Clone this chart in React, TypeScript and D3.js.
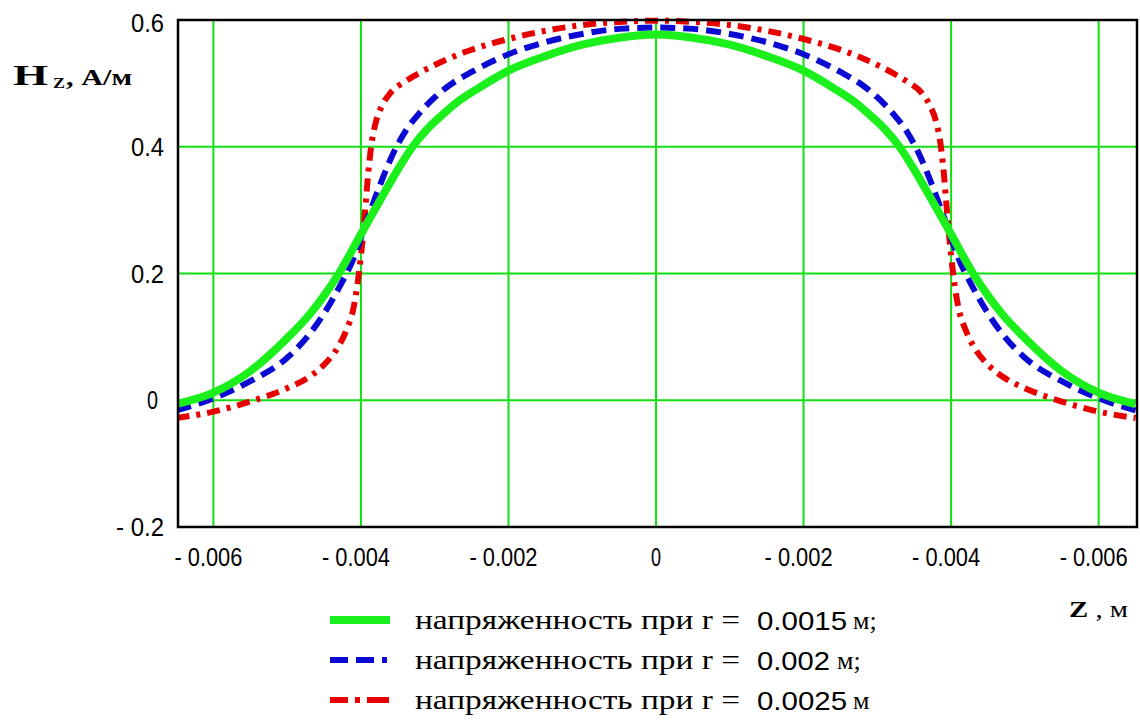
import React from "react";
import * as d3 from "d3";

// r = 0.0015 m : z (m) and Hz (A/m)
const Z15 = [
  -0.0065, -0.006, -0.0055, -0.005, -0.0047, -0.0045, -0.0043, -0.004, -0.0037, -0.0035,
  -0.0033, -0.0031, -0.0029, -0.0027, -0.0024, -0.002, -0.0015, -0.001, -0.0005, 0,
  0.0005, 0.001, 0.0015, 0.002, 0.0024, 0.0027, 0.0029, 0.0031, 0.0033, 0.0035,
  0.0037, 0.004, 0.0043, 0.0045, 0.0047, 0.005, 0.0055, 0.006, 0.0065,
];
const H15 = [
  -0.006, 0.012, 0.046, 0.098, 0.135, 0.165, 0.2, 0.262, 0.324, 0.364,
  0.4, 0.428, 0.45, 0.47, 0.493, 0.52, 0.543, 0.561, 0.572, 0.577,
  0.572, 0.561, 0.543, 0.52, 0.493, 0.47, 0.45, 0.428, 0.4, 0.364,
  0.324, 0.262, 0.2, 0.165, 0.135, 0.098, 0.046, 0.012, -0.006,
];

// r = 0.002 m
const Z20 = [
  -0.0065, -0.006, -0.0055, -0.005, -0.0047, -0.0045, -0.0043, -0.0041, -0.0039, -0.0037,
  -0.0036, -0.0034, -0.0032, -0.003, -0.0028, -0.0025, -0.002, -0.0015, -0.001, -0.0005, 0,
  0.0005, 0.001, 0.0015, 0.002, 0.0025, 0.0028, 0.003, 0.0032, 0.0034, 0.0036,
  0.0037, 0.0039, 0.0041, 0.0043, 0.0045, 0.0047, 0.005, 0.0055, 0.006, 0.0065,
];
const H20 = [
  -0.016, 0.003, 0.03, 0.067, 0.104, 0.137, 0.177, 0.224, 0.29, 0.352,
  0.38, 0.424, 0.454, 0.478, 0.497, 0.518, 0.546, 0.565, 0.578, 0.586, 0.588,
  0.586, 0.578, 0.565, 0.546, 0.518, 0.497, 0.478, 0.454, 0.424, 0.38,
  0.352, 0.29, 0.224, 0.177, 0.137, 0.104, 0.067, 0.03, 0.003, -0.016,
];

// r = 0.0025 m
const Z25 = [
  -0.0065, -0.006, -0.0055, -0.005, -0.0047, -0.0045, -0.0044, -0.0043, -0.0042, -0.0041,
  -0.00405, -0.004, -0.00395, -0.0039, -0.00385, -0.0038, -0.0037, -0.0036, -0.0034, -0.0032,
  -0.003, -0.0026, -0.002, -0.0015, -0.001, -0.0005, 0,
  0.0005, 0.001, 0.0015, 0.002, 0.0026, 0.003, 0.0032, 0.0034, 0.0036, 0.0037,
  0.0038, 0.00385, 0.0039, 0.00395, 0.004, 0.00405, 0.0041, 0.0042, 0.0043, 0.0044,
  0.0045, 0.0047, 0.005, 0.0055, 0.006, 0.0065,
];
const H25 = [
  -0.028, -0.018, -0.002, 0.019, 0.037, 0.056, 0.069, 0.086, 0.11, 0.146,
  0.18, 0.228, 0.29, 0.36, 0.41, 0.438, 0.468, 0.485, 0.503, 0.517,
  0.529, 0.549, 0.57, 0.583, 0.592, 0.597, 0.599,
  0.597, 0.592, 0.583, 0.57, 0.549, 0.529, 0.517, 0.503, 0.485, 0.468,
  0.438, 0.41, 0.36, 0.29, 0.228, 0.18, 0.146, 0.11, 0.086, 0.069,
  0.056, 0.037, 0.019, -0.002, -0.018, -0.028,
];

const X_TICKS = [-0.006, -0.004, -0.002, 0, 0.002, 0.004, 0.006];
const X_TICK_LABELS = ["- 0.006", "- 0.004", "- 0.002", "0", "- 0.002", "- 0.004", "- 0.006"];
const Y_TICKS = [-0.2, 0, 0.2, 0.4, 0.6];
const Y_TICK_LABELS = ["- 0.2", "0", "0.2", "0.4", "0.6"];

const LEGEND_PREFIX = "напряженность при r =";
const LEGEND_VALUES = ["0.0015", "0.002", "0.0025"];
const LEGEND_UNITS = ["м;", "м;", "м"];

const W = 1140;
const H = 726;
const L = 178, R = 1137, T = 20, B = 527;

const NUM_FONT = "'Liberation Sans', Arial, sans-serif";
const SERIF = "'Liberation Serif', 'Times New Roman', serif";

export default function App() {
  const x = d3.scaleLinear().domain([-0.00648, 0.00652]).range([L, R]);
  const y = d3.scaleLinear().domain([-0.2, 0.6]).range([B, T]);
  const mk = (zs: number[], vals: number[]) =>
    d3
      .line<number>()
      .x((_, i) => x(zs[i]))
      .y((d) => y(d))
      .curve(d3.curveMonotoneX)(vals) || "";

  const series = [
    { zs: Z25, vals: H25, color: "#e60000", width: 6, dash: "13,7,4,7" },
    { zs: Z20, vals: H20, color: "#0a0ad2", width: 6, dash: "15,8" },
    { zs: Z15, vals: H15, color: "#1cf01c", width: 8, dash: "" },
  ];
  const legendStyles = [series[2], series[1], series[0]];
  const legendY = [620, 660, 700];
  const legendValueLen = [90, 73, 90];
  const legendUnitX = [853, 837, 853];

  const xLabelLen = (s: string) => (s === "0" ? 10 : 68);
  const yLabelLen = (s: string) => (s === "0" ? 11 : s.length > 3 ? 48 : 33);

  return (
    <svg
      width={W}
      height={H}
      style={{ position: "absolute", left: 0, top: 0, background: "#fff" }}
    >
      <defs>
        <clipPath id="plotclip">
          <rect x={L} y={T - 4} width={R - L} height={B - T + 4} />
        </clipPath>
      </defs>
      {/* grid */}
      {X_TICKS.map((t) => (
        <line key={"gx" + t} x1={x(t)} x2={x(t)} y1={T} y2={B} stroke="#10e010" strokeWidth={2} />
      ))}
      {Y_TICKS.filter((t) => t > -0.2 && t < 0.6).map((t) => (
        <line key={"gy" + t} x1={L} x2={R} y1={y(t)} y2={y(t)} stroke="#10e010" strokeWidth={2} />
      ))}
      {/* curves */}
      <g clipPath="url(#plotclip)">
        {series.map((s, i) => (
          <path
            key={i}
            d={mk(s.zs, s.vals)}
            fill="none"
            stroke={s.color}
            strokeWidth={s.width}
            strokeDasharray={s.dash || undefined}
            strokeLinejoin="round"
          />
        ))}
      </g>
      {/* frame */}
      <rect x={L} y={T} width={R - L} height={B - T} fill="none" stroke="#000" strokeWidth={2.5} />
      {/* x tick labels */}
      {X_TICKS.map((t, i) => (
        <text
          key={"xl" + i}
          x={x(t) + (t === 0 ? 0 : -5)}
          y={566}
          textAnchor="middle"
          fontFamily={NUM_FONT}
          fontSize={25}
          textLength={xLabelLen(X_TICK_LABELS[i])}
          lengthAdjust="spacingAndGlyphs"
          fill="#000"
        >
          {X_TICK_LABELS[i]}
        </text>
      ))}
      {/* y tick labels */}
      {Y_TICKS.map((t, i) => (
        <text
          key={"yl" + i}
          x={164 - (t === 0 ? 6 : 0)}
          y={y(t) + (t === 0.6 ? 12 : 9)}
          textAnchor="end"
          fontFamily={NUM_FONT}
          fontSize={25}
          textLength={yLabelLen(Y_TICK_LABELS[i])}
          lengthAdjust="spacingAndGlyphs"
          fill="#000"
        >
          {Y_TICK_LABELS[i]}
        </text>
      ))}
      {/* y axis title */}
      <g fontFamily={SERIF} fontWeight="bold" fill="#000">
        <text x={13} y={85} fontSize={30} textLength={35} lengthAdjust="spacingAndGlyphs">
          H
        </text>
        <text x={53} y={88} fontSize={15} textLength={12} lengthAdjust="spacingAndGlyphs">
          Z
        </text>
        <text x={66} y={85} fontSize={23} textLength={66} lengthAdjust="spacingAndGlyphs">
          , А/м
        </text>
      </g>
      {/* x axis title */}
      <text
        x={1069}
        y={617}
        fontFamily={SERIF}
        fontSize={24}
        textLength={59}
        lengthAdjust="spacingAndGlyphs"
        fill="#000"
      >
        <tspan fontWeight="bold">Z</tspan>
        <tspan> , м</tspan>
      </text>
      {/* legend */}
      {legendStyles.map((s, i) => (
        <g key={"lg" + i}>
          <line
            x1={330}
            x2={390}
            y1={legendY[i]}
            y2={legendY[i]}
            stroke={s.color}
            strokeWidth={i === 0 ? 8 : 6}
            strokeDasharray={i === 0 ? undefined : i === 1 ? "18,8,18,8,5,20" : "18,7,5,7,22,10"}
          />
          <text
            x={415}
            y={legendY[i] + 9}
            fontFamily={SERIF}
            fontSize={28}
            textLength={325}
            lengthAdjust="spacingAndGlyphs"
            fill="#000"
          >
            {LEGEND_PREFIX}
          </text>
          <text
            x={757}
            y={legendY[i] + 10}
            fontFamily={NUM_FONT}
            fontSize={26}
            textLength={legendValueLen[i]}
            lengthAdjust="spacingAndGlyphs"
            fill="#000"
          >
            {LEGEND_VALUES[i]}
          </text>
          <text x={legendUnitX[i]} y={legendY[i] + 9} fontFamily={SERIF} fontSize={26} fill="#000">
            {LEGEND_UNITS[i]}
          </text>
        </g>
      ))}
    </svg>
  );
}
